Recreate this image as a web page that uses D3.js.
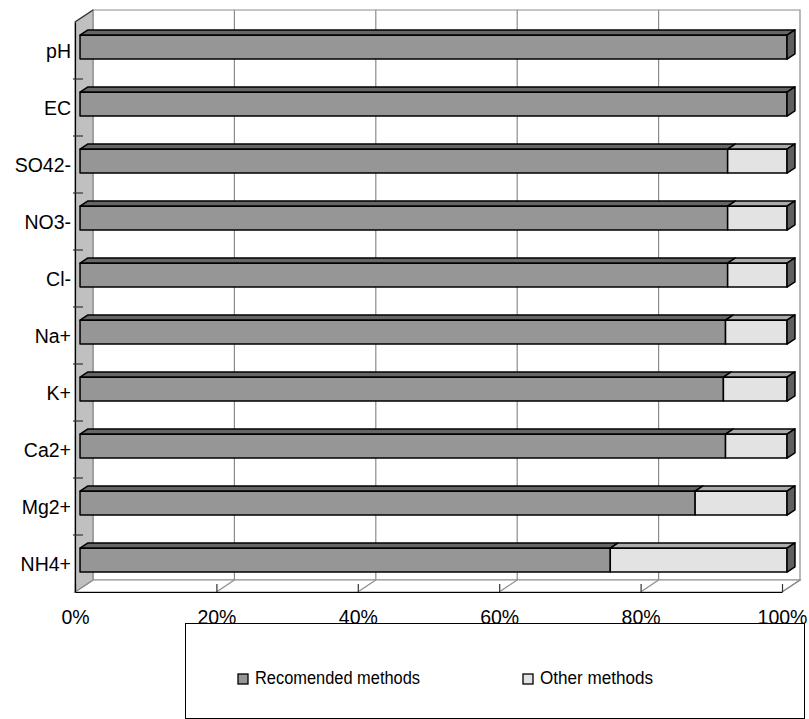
<!DOCTYPE html>
<html>
<head>
<meta charset="utf-8">
<script src="https://cdn.jsdelivr.net/npm/d3@7/dist/d3.min.js"></script>
<style>
  html, body { margin: 0; padding: 0; background: #fff; }
  svg { display: block; font-family: "Liberation Sans", Arial, sans-serif; }
</style>
</head>
<body>
<svg id="chart" width="809" height="719"></svg>
<script>
// ---- data ----
const categories = ["pH", "EC", "SO42-", "NO3-", "Cl-", "Na+", "K+", "Ca2+", "Mg2+", "NH4+"];
const recommended = [100, 100, 91.6, 91.6, 91.6, 91.3, 91.0, 91.3, 87.0, 75.0];
const other       = [0, 0, 8.4, 8.4, 8.4, 8.7, 9.0, 8.7, 13.0, 25.0];
const seriesNames = ["Recomended methods", "Other methods"];
const xTickValues = [0, 20, 40, 60, 80, 100];
const xTickLabels = ["0%", "20%", "40%", "60%", "80%", "100%"];

// ---- layout ----
const svg = d3.select("#chart");
const DX = 18, DY = -12;           // depth offset of the 3D box
const zf = 0.28, zb = 0.72;         // bar depth (front / back fractions)
const x = d3.scaleLinear().domain([0, 100]).range([75, 782]);
const y = d3.scaleBand().domain(categories).range([22, 592]).padding(0);
const barFrac = 0.42;
const frontFill = ["#969696", "#e3e3e3"];
const topFill = ["#666666", "#ababab"];
const sideFill = "#5f5f5f";

const P = (px, py, z) => [px + z * DX, py + z * DY];
const poly = pts => "M" + pts.map(p => p.join(",")).join("L") + "Z";

const x0 = x(0), x1 = x(100), yT = 22, yB = 592;

// back wall
svg.append("path")
  .attr("d", poly([P(x0, yT, 1), P(x1, yT, 1), P(x1, yB, 1), P(x0, yB, 1)]))
  .attr("fill", "#fff").attr("stroke", "#8c8c8c").attr("stroke-width", 1.2);
// gridlines on back wall
svg.append("g").selectAll("line").data(xTickValues.filter(v => v > 0 && v < 100)).join("line")
  .attr("x1", d => x(d) + DX).attr("x2", d => x(d) + DX)
  .attr("y1", yT + DY).attr("y2", yB + DY)
  .attr("stroke", "#8c8c8c").attr("stroke-width", 1.2);
// floor
svg.append("path")
  .attr("d", poly([P(x0, yB, 0), P(x1, yB, 0), P(x1, yB, 1), P(x0, yB, 1)]))
  .attr("fill", "#fff").attr("stroke", "#8c8c8c").attr("stroke-width", 1.2);
svg.append("g").selectAll("line").data(xTickValues).join("line")
  .attr("x1", d => x(d)).attr("y1", yB)
  .attr("x2", d => x(d) + DX).attr("y2", yB + DY)
  .attr("stroke", "#8c8c8c").attr("stroke-width", 1.2);
// left wall
svg.append("path")
  .attr("d", poly([P(x0, yT, 0), P(x0, yT, 1), P(x0, yB, 1), P(x0, yB, 0)]))
  .attr("fill", "#c0c0c0").attr("stroke", "#8c8c8c").attr("stroke-width", 1.2);
svg.append("line")
  .attr("x1", x0).attr("y1", yT).attr("x2", x0 + DX).attr("y2", yT + DY)
  .attr("stroke", "#333").attr("stroke-width", 1.2);

// ---- bars ----
const bars = svg.append("g");
categories.forEach((c, i) => {
  const vals = [recommended[i], other[i]];
  const yy0 = y(c) + y.bandwidth() * (1 - barFrac) / 2;
  const yy1 = yy0 + y.bandwidth() * barFrac;
  let start = 0;
  let lastEnd = 0;
  vals.forEach((v, s) => {
    if (v <= 0) return;
    const a = x(start), b = x(start + v);
    bars.append("path")
      .attr("d", poly([P(a, yy0, zf), P(b, yy0, zf), P(b, yy0, zb), P(a, yy0, zb)]))
      .attr("fill", topFill[s]).attr("stroke", "#000").attr("stroke-width", 1.5)
      .attr("stroke-linejoin", "round");
    bars.append("path")
      .attr("d", poly([P(a, yy0, zf), P(b, yy0, zf), P(b, yy1, zf), P(a, yy1, zf)]))
      .attr("fill", frontFill[s]).attr("stroke", "#000").attr("stroke-width", 1.5)
      .attr("stroke-linejoin", "round");
    start += v;
    lastEnd = b;
  });
  bars.append("path")
    .attr("d", poly([P(lastEnd, yy0, zf), P(lastEnd, yy0, zb), P(lastEnd, yy1, zb), P(lastEnd, yy1, zf)]))
    .attr("fill", sideFill).attr("stroke", "#000").attr("stroke-width", 1.5)
    .attr("stroke-linejoin", "round");
});

// ---- axes ----
const xAxis = d3.axisBottom(x)
  .tickValues(xTickValues)
  .tickFormat((d, i) => xTickLabels[i])
  .tickSizeInner(-8).tickSizeOuter(0).tickPadding(18);
const gx = svg.append("g").attr("transform", `translate(0,${yB})`).call(xAxis);
gx.select(".domain").attr("stroke", "#000").attr("stroke-width", 1.2);
gx.selectAll(".tick line").attr("stroke", "#333").attr("stroke-width", 1.2);
gx.selectAll(".tick text").attr("font-size", 19.5).attr("fill", "#000")
  .attr("font-family", "Liberation Sans, Arial, sans-serif");

const yAxis = d3.axisLeft(y).tickSize(0).tickPadding(4);
const gy = svg.append("g").attr("transform", `translate(${x0},0)`).call(yAxis);
gy.select(".domain").attr("stroke", "#000").attr("stroke-width", 1.2);
gy.selectAll(".tick text").attr("font-size", 19.5).attr("fill", "#000")
  .attr("font-family", "Liberation Sans, Arial, sans-serif").attr("dy", "0.38em");
svg.append("g").selectAll("line").data(categories.slice(1)).join("line")
  .attr("x1", x0 - 2).attr("x2", x0 + 8)
  .attr("y1", d => y(d)).attr("y2", d => y(d))
  .attr("stroke", "#333").attr("stroke-width", 1.2);

// ---- legend ----
const lg = svg.append("g");
lg.append("rect").attr("x", 185.5).attr("y", 623.5).attr("width", 619).attr("height", 95)
  .attr("fill", "#fff").attr("stroke", "#000").attr("stroke-width", 1);
const legendX = [238, 523];
const legendW = [165, 113];
seriesNames.forEach((name, s) => {
  lg.append("rect").attr("x", legendX[s]).attr("y", 674).attr("width", 10).attr("height", 10)
    .attr("fill", frontFill[s]).attr("stroke", "#000").attr("stroke-width", 1.3);
  lg.append("text").attr("x", legendX[s] + 17).attr("y", 683.5)
    .attr("font-size", 18).attr("fill", "#000")
    .attr("textLength", legendW[s]).attr("lengthAdjust", "spacingAndGlyphs")
    .text(name);
});
</script>
</body>
</html>
